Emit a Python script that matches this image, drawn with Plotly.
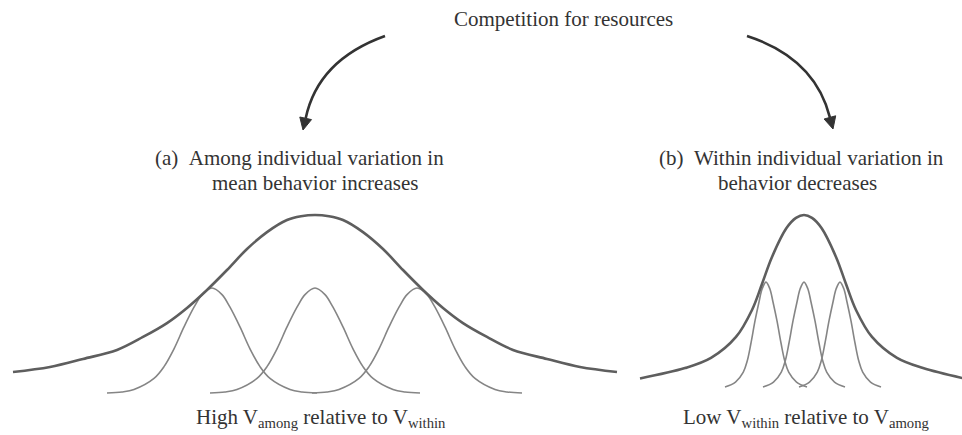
import plotly.graph_objects as go

# ---------------- data ----------------
# Panel (a): population distribution (broad) and individual distributions
A_BIG_X = [-6.04, -5.3, -4.64, -3.96, -3.44, -2.96, -2.56, -2.16, -1.76, -1.36, -0.96, -0.56, -0.28, 0.0,
           0.28, 0.56, 0.96, 1.36, 1.76, 2.16, 2.56, 2.96, 3.44, 3.96, 4.64, 5.3, 6.04]
A_BIG_Y = [0.118, 0.146, 0.191, 0.242, 0.315, 0.393, 0.478, 0.579, 0.691, 0.809, 0.904, 0.972, 0.993, 1.0,
           0.993, 0.972, 0.904, 0.809, 0.691, 0.579, 0.478, 0.393, 0.315, 0.242, 0.191, 0.146, 0.118]
A_IND_MEANS = [-2.06, 0.0, 2.04]
A_IND_DX = [-2.1, -1.8, -1.56, -1.16, -0.96, -0.76, -0.56, -0.36, -0.2, 0.0,
            0.2, 0.36, 0.56, 0.76, 0.96, 1.16, 1.56, 1.8, 2.1]
A_IND_Y = [0.0, 0.006, 0.02, 0.082, 0.148, 0.248, 0.371, 0.482, 0.553, 0.59,
           0.553, 0.482, 0.371, 0.248, 0.148, 0.082, 0.02, 0.006, 0.0]

# Panel (b): population distribution (narrow) and individual distributions
B_BIG_X = [-3.28, -2.38, -1.86, -1.36, -1.04, -0.84, -0.64, -0.35, -0.16, 0.0,
           0.16, 0.35, 0.64, 0.84, 1.04, 1.36, 1.86, 2.38, 3.2]
B_BIG_Y = [0.05, 0.11, 0.169, 0.291, 0.448, 0.599, 0.756, 0.924, 0.983, 1.0,
           0.983, 0.924, 0.756, 0.599, 0.448, 0.291, 0.169, 0.11, 0.05]
B_IND_MEANS = [-0.76, 0.0, 0.72]
B_IND_DX = [-0.82, -0.61, -0.454, -0.376, -0.3, -0.22, -0.14, -0.078, 0.0,
            0.078, 0.14, 0.22, 0.3, 0.376, 0.454, 0.61, 0.82]
B_IND_Y = [0.0, 0.029, 0.087, 0.151, 0.256, 0.384, 0.494, 0.57, 0.61,
           0.57, 0.494, 0.384, 0.256, 0.151, 0.087, 0.029, 0.0]

TITLE = "Competition for resources"
A_LINE1 = "(a)\u2002Among individual variation in"
A_LINE2 = "mean behavior increases"
B_LINE1 = "(b)\u2002Within individual variation in"
B_LINE2 = "behavior decreases"
A_BOTTOM = "High V<sub>among</sub> relative to V<sub>within</sub>"
B_BOTTOM = "Low V<sub>within</sub> relative to V<sub>among</sub>"

# ---------------- figure ----------------
W, H = 962, 435
BIG_COLOR = "#5e5e5e"
IND_COLOR = "#858585"
TEXT_COLOR = "#333333"
ARROW_COLOR = "#333333"
FONT = "Liberation Serif, Times New Roman, serif"
FONT_SIZE = 21

fig = go.Figure()

for m in A_IND_MEANS:
    fig.add_trace(go.Scatter(x=[m + d for d in A_IND_DX], y=A_IND_Y, mode="lines",
                             line=dict(color=IND_COLOR, width=1.6, shape="spline", smoothing=1.0),
                             xaxis="x", yaxis="y", hoverinfo="skip"))
fig.add_trace(go.Scatter(x=A_BIG_X, y=A_BIG_Y, mode="lines",
                         line=dict(color=BIG_COLOR, width=2.6, shape="spline", smoothing=1.0),
                         xaxis="x", yaxis="y", hoverinfo="skip"))

for m in B_IND_MEANS:
    fig.add_trace(go.Scatter(x=[m + d for d in B_IND_DX], y=B_IND_Y, mode="lines",
                             line=dict(color=IND_COLOR, width=1.6, shape="spline", smoothing=1.0),
                             xaxis="x2", yaxis="y2", hoverinfo="skip"))
fig.add_trace(go.Scatter(x=B_BIG_X, y=B_BIG_Y, mode="lines",
                         line=dict(color=BIG_COLOR, width=2.6, shape="spline", smoothing=1.0),
                         xaxis="x2", yaxis="y2", hoverinfo="skip"))


def P(px, py):
    return px / W, 1 - py / H


def curved_arrow(p0, c, p1, head):
    (x0, y0), (cx, cy), (x1, y1) = P(*p0), P(*c), P(*p1)
    shapes = [dict(type="path", xref="paper", yref="paper",
                   path=f"M {x0},{y0} Q {cx},{cy} {x1},{y1}",
                   line=dict(color=ARROW_COLOR, width=2.6))]
    pts = [P(*q) for q in head]
    path = "M " + " L ".join(f"{a},{b}" for a, b in pts) + " Z"
    shapes.append(dict(type="path", xref="paper", yref="paper", path=path,
                       fillcolor=ARROW_COLOR, line=dict(color=ARROW_COLOR, width=1)))
    return shapes


shapes = []
shapes += curved_arrow((385, 36), (318, 60), (305.7, 118.3),
                       [(303, 130), (311.5, 119.6), (299.8, 117.0)])
shapes += curved_arrow((747, 36), (815, 58), (829.9, 117.4),
                       [(833, 129), (835.7, 115.8), (824.1, 119.0)])


def ann(text, px, py):
    x, y = P(px, py)
    return dict(text=text, x=x, y=y, xref="paper", yref="paper", showarrow=False,
                xanchor="center", yanchor="middle",
                font=dict(family=FONT, size=FONT_SIZE, color=TEXT_COLOR))


annotations = [
    ann(TITLE, 563, 19),
    ann(A_LINE1, 299, 158),
    ann(A_LINE2, 315, 183),
    ann(B_LINE1, 801, 158),
    ann(B_LINE2, 797, 183),
    ann(A_BOTTOM, 321, 418),
    ann(B_BOTTOM, 806, 418),
]

hidden = dict(visible=False, showgrid=False, zeroline=False, fixedrange=True)
fig.update_layout(
    width=W, height=H,
    margin=dict(l=0, r=0, t=0, b=0),
    paper_bgcolor="white", plot_bgcolor="white",
    showlegend=False,
    xaxis=dict(domain=[0, 630 / W], range=[-6.3, 6.3], **hidden),
    yaxis=dict(domain=[0, 1], range=[-0.236, 2.208], anchor="x", **hidden),
    xaxis2=dict(domain=[630 / W, 1], range=[-3.48, 3.16], anchor="y2", **hidden),
    yaxis2=dict(domain=[0, 1], range=[-0.279, 2.250], anchor="x2", **hidden),
    shapes=shapes,
    annotations=annotations,
)

fig.write_html(
    "out.html",
    config={"displayModeBar": False, "staticPlot": True},
    post_script="document.body.style.margin='0';document.body.style.overflow='hidden';",
)
